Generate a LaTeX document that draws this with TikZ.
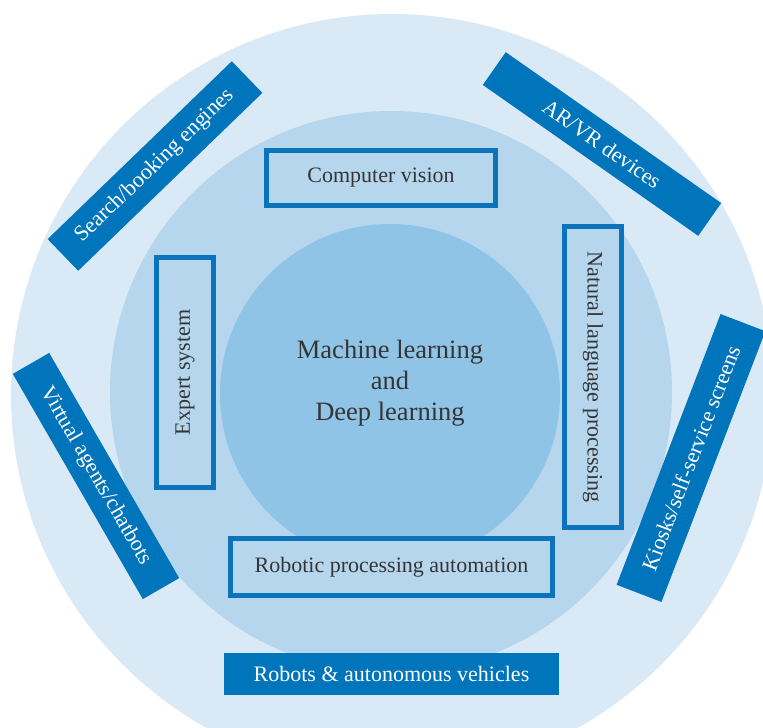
\documentclass[tikz,border=0pt]{standalone}
\usepackage{fontspec}
\setmainfont{Liberation Serif}
\definecolor{outerc}{HTML}{D9EAF6}
\definecolor{midc}{HTML}{B5D6EC}
\definecolor{innerc}{HTML}{8FC4E6}
\definecolor{darkc}{HTML}{0075BB}
\definecolor{borderc}{HTML}{0A73B9}
\definecolor{txtc}{HTML}{353535}
\begin{document}
\begin{tikzpicture}[x=1pt,y=-1pt,
  lightbox/.style={draw=borderc, line width=5pt, fill=midc, text=txtc,
    font=\fontsize{22}{26}\selectfont, inner sep=0pt, align=center},
  darkbox/.style={fill=darkc, text=white,
    font=\fontsize{22}{26}\selectfont, inner sep=0pt, align=center},
  ring/.style={draw=none}]
\useasboundingbox (0,0) rectangle (763,728);
\begin{scope}
\clip (0,0) rectangle (763,728);
\fill[outerc] (392,395) circle (381);
\fill[midc] (391,392) circle (281);
\fill[innerc] (390,394) circle (170);
% outer dark boxes
\node[darkbox, minimum width=335, minimum height=42] (robots) at (391.5,674) {Robots \& autonomous vehicles};
\node[darkbox, minimum width=256, minimum height=44, rotate=44] (search) at (155,166) {Search/booking engines};
\node[darkbox, minimum width=263, minimum height=40, rotate=-35] (arvr) at (602,144) {AR/VR devices};
\node[darkbox, minimum width=290, minimum height=48, rotate=69] (kiosk) at (691,458) {Kiosks/self-service screens};
\node[darkbox, minimum width=260, minimum height=42, rotate=-60] (virtual) at (96,476) {Virtual agents/chatbots};
\end{scope}
% inner light boxes
\node[lightbox, minimum width=229, minimum height=55] (cv) at (381,178) {Computer vision};
\node[lightbox, minimum width=230, minimum height=57, rotate=90] (expert) at (185,372.5) {Expert system};
\node[lightbox, minimum width=301, minimum height=57, rotate=-90] (nlp) at (593,377) {Natural language processing};
\node[lightbox, minimum width=322, minimum height=57] (rpa) at (391.5,567) {Robotic processing automation};
% centre
\node[text=txtc, font=\fontsize{26.5}{31}\selectfont, align=center] (ml) at (390,383) {Machine learning\\and\\Deep learning};
\end{tikzpicture}
\end{document}
